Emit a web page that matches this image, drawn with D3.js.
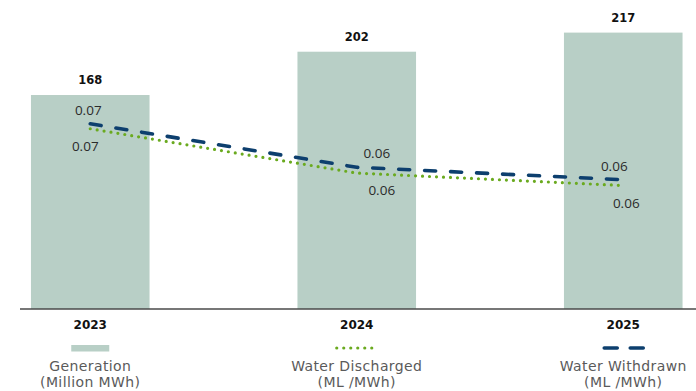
<!DOCTYPE html>
<html>
<head>
<meta charset="utf-8">
<script src="https://cdn.jsdelivr.net/npm/d3@7"></script>
<style>
  html, body { margin: 0; padding: 0; background: #ffffff; }
  svg { display: block; font-family: "Open Sans", "DejaVu Sans", sans-serif; }
</style>
</head>
<body>
<svg id="chart" width="696" height="391"></svg>
<script>
// Years on the category axis
const years = ["2023", "2024", "2025"];
// Generation, million MWh (bars)
const generation = [168, 202, 217];
// Water intensity, ML/MWh (lines)
const waterWithdrawn = [0.0735, 0.0630, 0.0600];
const waterDischarged = [0.0723, 0.0616, 0.0586];

// Legend entries
const legendLabels = [
  ["Generation", "(Million MWh)"],
  ["Water Discharged", "(ML /MWh)"],
  ["Water Withdrawn", "(ML /MWh)"]
];

// Label nudges (layout only)
const withdrawnLabelDx = [-2, 20, -9];
const dischargedLabelDx = [-5, 25, 3];

const colors = {
  bar: "#b8cfc6",
  withdrawn: "#0d3f6e",
  discharged: "#6aaa1f",
  axis: "#4a4a4a",
  text: "#2b2b2b",
  legendText: "#5a5a5a"
};

const wideFont = "'DejaVu Sans', sans-serif";

const svg = d3.select("#chart");

const x = d3.scaleBand()
  .domain(years)
  .range([-43, 756.5])
  .paddingInner(0.555)
  .paddingOuter(0.2775);

const yBar = d3.scaleLinear().domain([0, 242.6]).range([309, 0]);
const yLine = d3.scaleLinear().domain([0.03, 0.10]).range([304, 14]);

const cx = d => x(d) + x.bandwidth() / 2;

// Bars
svg.append("g").selectAll("rect")
  .data(years)
  .join("rect")
  .attr("x", d => x(d))
  .attr("y", (d, i) => yBar(generation[i]))
  .attr("width", x.bandwidth())
  .attr("height", (d, i) => yBar(0) - yBar(generation[i]))
  .attr("fill", colors.bar);

// Bar value labels
svg.append("g").selectAll("text")
  .data(years)
  .join("text")
  .attr("x", d => cx(d))
  .attr("y", (d, i) => yBar(generation[i]) - 11)
  .attr("text-anchor", "middle")
  .attr("font-family", wideFont)
  .attr("font-size", 11.5)
  .attr("font-weight", 700)
  .attr("fill", "#111")
  .text((d, i) => generation[i]);

// Category axis
const xAxis = d3.axisBottom(x).tickSize(0).tickPadding(11);
const gx = svg.append("g")
  .attr("transform", `translate(0,${yBar(0)})`)
  .call(xAxis);
gx.select(".domain").remove();
gx.selectAll("text")
  .attr("font-size", 12)
  .attr("font-weight", 700)
  .attr("fill", "#111")
  .attr("font-family", wideFont);
svg.append("line")
  .attr("x1", 20).attr("x2", 696)
  .attr("y1", yBar(0)).attr("y2", yBar(0))
  .attr("stroke", colors.axis)
  .attr("stroke-width", 1.5);

// Lines
const line = d3.line()
  .x((d, i) => cx(years[i]))
  .y(d => yLine(d));

svg.append("path")
  .datum(waterDischarged)
  .attr("d", line)
  .attr("fill", "none")
  .attr("stroke", colors.discharged)
  .attr("stroke-width", 3.2)
  .attr("stroke-linecap", "round")
  .attr("stroke-dasharray", "0 7");

svg.append("path")
  .datum(waterWithdrawn)
  .attr("d", line)
  .attr("fill", "none")
  .attr("stroke", colors.withdrawn)
  .attr("stroke-width", 3.6)
  .attr("stroke-linecap", "round")
  .attr("stroke-dasharray", "11 15");

const fmt = d3.format(".2f");

// Line value labels
svg.append("g").selectAll("text")
  .data(waterWithdrawn)
  .join("text")
  .attr("x", (d, i) => cx(years[i]) + withdrawnLabelDx[i])
  .attr("y", d => yLine(d) - 9)
  .attr("text-anchor", "middle")
  .attr("font-size", 13.5)
  .attr("fill", colors.text)
  .text(d => fmt(d));

svg.append("g").selectAll("text")
  .data(waterDischarged)
  .join("text")
  .attr("x", (d, i) => cx(years[i]) + dischargedLabelDx[i])
  .attr("y", d => yLine(d) + 22)
  .attr("text-anchor", "middle")
  .attr("font-size", 13.5)
  .attr("fill", colors.text)
  .text(d => fmt(d));

// Legend, one entry under each year
const legend = svg.append("g").selectAll("g")
  .data(legendLabels)
  .join("g")
  .attr("transform", (d, i) => `translate(${cx(years[i])},0)`);

legend.filter((d, i) => i === 0).append("rect")
  .attr("x", -19).attr("y", 345)
  .attr("width", 38).attr("height", 6.5)
  .attr("fill", colors.bar);

legend.filter((d, i) => i === 1).append("line")
  .attr("x1", -20).attr("x2", 20)
  .attr("y1", 348).attr("y2", 348)
  .attr("stroke", colors.discharged)
  .attr("stroke-width", 3.2)
  .attr("stroke-linecap", "round")
  .attr("stroke-dasharray", "0 7");

legend.filter((d, i) => i === 2).append("line")
  .attr("x1", -19).attr("x2", 23)
  .attr("y1", 348).attr("y2", 348)
  .attr("stroke", colors.withdrawn)
  .attr("stroke-width", 3.6)
  .attr("stroke-linecap", "round")
  .attr("stroke-dasharray", "13 13");

legend.each(function(d) {
  const t = d3.select(this).append("text")
    .attr("text-anchor", "middle")
    .attr("font-family", wideFont)
    .attr("font-size", 14)
    .attr("letter-spacing", 0.4)
    .attr("fill", colors.legendText);
  t.append("tspan").attr("x", 0).attr("y", 370.5).text(d[0]);
  t.append("tspan").attr("x", 0).attr("y", 387.2).text(d[1]);
});
</script>
</body>
</html>
